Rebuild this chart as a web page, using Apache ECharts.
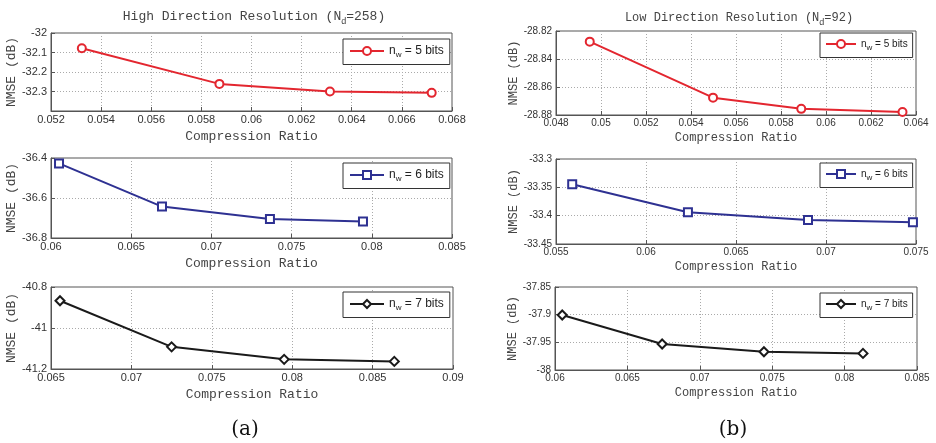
<!DOCTYPE html>
<html><head><meta charset="utf-8">
<script src="https://cdn.jsdelivr.net/npm/echarts@6/dist/echarts.min.js"></script>
<style>html,body{margin:0;padding:0;background:#fff}#c{width:936px;height:443px}</style>
</head><body><div id="c"></div>
<script>
// Data
const ratioA5 = [0.05323, 0.05872, 0.06313, 0.06719];
const nmseA5  = [-32.078, -32.261, -32.300, -32.307];
const ratioB5 = [0.0495, 0.05498, 0.0589, 0.0634];
const nmseB5  = [-28.8276, -28.8676, -28.8756, -28.8778];
const ratioA6 = [0.0605, 0.06692, 0.07365, 0.07945];
const nmseA6  = [-36.427, -36.643, -36.705, -36.718];
const ratioB6 = [0.0559, 0.06233, 0.0690, 0.07483];
const nmseB6  = [-33.3447, -33.394, -33.4076, -33.4117];
const ratioA7 = [0.06556, 0.0725, 0.0795, 0.08635];
const nmseA7  = [-40.867, -41.092, -41.153, -41.163];
const ratioB7 = [0.0605, 0.0674, 0.07443, 0.08127];
const nmseB7  = [-37.9006, -37.953, -37.967, -37.970];

const legendLabels = ['5 bits', '5 bits', '6 bits', '6 bits', '7 bits', '7 bits'];
const titleLabels = ['High Direction Resolution (N{s|d}=258)', 'Low Direction Resolution (N{s|d}=92)'];
const panelLabels = ['(a)', '(b)'];
const xName = 'Compression Ratio';
const yName = 'NMSE (dB)';

const panels = [
  {x: ratioA5, y: nmseA5, xr: [0.052, 0.068, 0.002], yr: [-32.4, -32, 0.1], hideMinY: true,
   grid: {left: 51, top: 33, width: 401, height: 78}, leg: {left: 343, top: 39}, color: '#e3262f', sym: 'emptyCircle', ss: 8, side: 0},
  {x: ratioB5, y: nmseB5, xr: [0.048, 0.064, 0.002], yr: [-28.88, -28.82, 0.02],
   grid: {left: 556, top: 31, width: 360, height: 84}, leg: {left: 820, top: 33}, color: '#e3262f', sym: 'emptyCircle', ss: 8, side: 1},
  {x: ratioA6, y: nmseA6, xr: [0.06, 0.085, 0.005], yr: [-36.8, -36.4, 0.2],
   grid: {left: 51, top: 158, width: 401, height: 80}, leg: {left: 343, top: 163}, color: '#2e3192', sym: 'emptyRect', ss: 8, side: 0},
  {x: ratioB6, y: nmseB6, xr: [0.055, 0.075, 0.005], yr: [-33.45, -33.3, 0.05],
   grid: {left: 556, top: 159, width: 360, height: 85}, leg: {left: 820, top: 163}, color: '#2e3192', sym: 'emptyRect', ss: 8, side: 1},
  {x: ratioA7, y: nmseA7, xr: [0.065, 0.09, 0.005], yr: [-41.2, -40.8, 0.2],
   grid: {left: 51, top: 287, width: 402, height: 82}, leg: {left: 343, top: 292}, color: '#1a1a1a', sym: 'emptyDiamond', ss: 9, side: 0},
  {x: ratioB7, y: nmseB7, xr: [0.06, 0.085, 0.005], yr: [-38, -37.85, 0.05],
   grid: {left: 555, top: 287, width: 362, height: 83}, leg: {left: 820, top: 293}, color: '#1a1a1a', sym: 'emptyDiamond', ss: 9, side: 1}
];

const mono = '"Liberation Mono", "DejaVu Sans Mono", monospace';
const sans = '"Liberation Sans", Arial, sans-serif';
const serif = '"DejaVu Serif", "Liberation Serif", serif';

const option = {
  backgroundColor: '#fff',
  animation: false,
  title: [
    {text: titleLabels[0], left: 249, top: 3, textAlign: 'center',
     textStyle: {fontFamily: mono, fontSize: 13, fontWeight: 'normal', color: '#444',
       rich: {s: {fontFamily: sans, fontSize: 9, color: '#444', padding: [9, 0, 0, 0]}}}},
    {text: titleLabels[1], left: 734, top: 4, textAlign: 'center',
     textStyle: {fontFamily: mono, fontSize: 12, fontWeight: 'normal', color: '#444',
       rich: {s: {fontFamily: sans, fontSize: 9, color: '#444', padding: [9, 0, 0, 0]}}}},
    {text: panelLabels[0], left: 240, top: 415, textAlign: 'center',
     textStyle: {fontFamily: serif, fontSize: 20, fontWeight: 'normal', color: '#111'}},
    {text: panelLabels[1], left: 728, top: 415, textAlign: 'center',
     textStyle: {fontFamily: serif, fontSize: 20, fontWeight: 'normal', color: '#111'}}
  ],
  grid: panels.map(p => Object.assign({show: true, borderColor: '#555', borderWidth: 1, backgroundColor: '#fff'}, p.grid)),
  xAxis: panels.map((p, i) => ({
    type: 'value', gridIndex: i, min: p.xr[0], max: p.xr[1], interval: p.xr[2],
    name: xName, nameLocation: 'middle', nameGap: p.side ? 17 : 19,
    nameTextStyle: {fontFamily: mono, fontSize: p.side ? 12 : 13, color: '#444'},
    axisLine: {show: true, onZero: false, lineStyle: {color: '#555', width: 1}},
    axisTick: {show: true, inside: true, length: 4, lineStyle: {color: '#555'}},
    axisLabel: {fontFamily: sans, fontSize: p.side ? 10 : 11, color: '#333', margin: 3},
    splitLine: {show: true, lineStyle: {color: '#aaa', type: [1, 2], width: 1}}
  })),
  yAxis: panels.map((p, i) => ({
    type: 'value', gridIndex: i, min: p.yr[0], max: p.yr[1], interval: p.yr[2],
    name: yName, nameLocation: 'middle', nameGap: p.side ? 34 : 33, nameRotate: 90,
    nameTextStyle: {fontFamily: mono, fontSize: p.side ? 12 : 13, color: '#444'},
    axisLine: {show: true, onZero: false, lineStyle: {color: '#555', width: 1}},
    axisTick: {show: true, inside: true, length: 4, lineStyle: {color: '#555'}},
    axisLabel: {fontFamily: sans, fontSize: p.side ? 10 : 11, color: '#333', margin: 4,
      showMinLabel: !p.hideMinY},
    splitLine: {show: true, lineStyle: {color: '#aaa', type: [1, 2], width: 1}}
  })),
  legend: panels.map((p, i) => ({
    data: ['s' + i], left: p.leg.left, top: p.leg.top, orient: 'vertical',
    padding: p.side ? [6, 5, 6, 5] : [6, 6, 6, 6], itemWidth: p.side ? 30 : 34, itemHeight: 10, itemGap: 0,
    borderColor: '#333', borderWidth: 1, backgroundColor: '#fff',
    formatter: () => '{n|n}{s|w}{n| = ' + legendLabels[i] + '}',
    textStyle: {fontFamily: sans, fontSize: p.side ? 10 : 12, color: '#222',
      rich: {n: {fontFamily: sans, fontSize: p.side ? 10 : 12, color: '#222'},
             s: {fontFamily: sans, fontSize: 8, color: '#222', padding: [7, 0, 0, 0]}}}
  })),
  series: panels.map((p, i) => ({
    name: 's' + i, type: 'line', xAxisIndex: i, yAxisIndex: i,
    data: p.x.map((v, k) => [v, p.y[k]]),
    symbol: p.sym, symbolSize: p.ss,
    lineStyle: {color: p.color, width: 2},
    itemStyle: {color: p.color, borderColor: p.color, borderWidth: 1.5},
    emphasis: {disabled: true}
  }))
};

const chart = echarts.init(document.getElementById('c'), null, {renderer: 'canvas'});
chart.setOption(option);
</script>
</body></html>
